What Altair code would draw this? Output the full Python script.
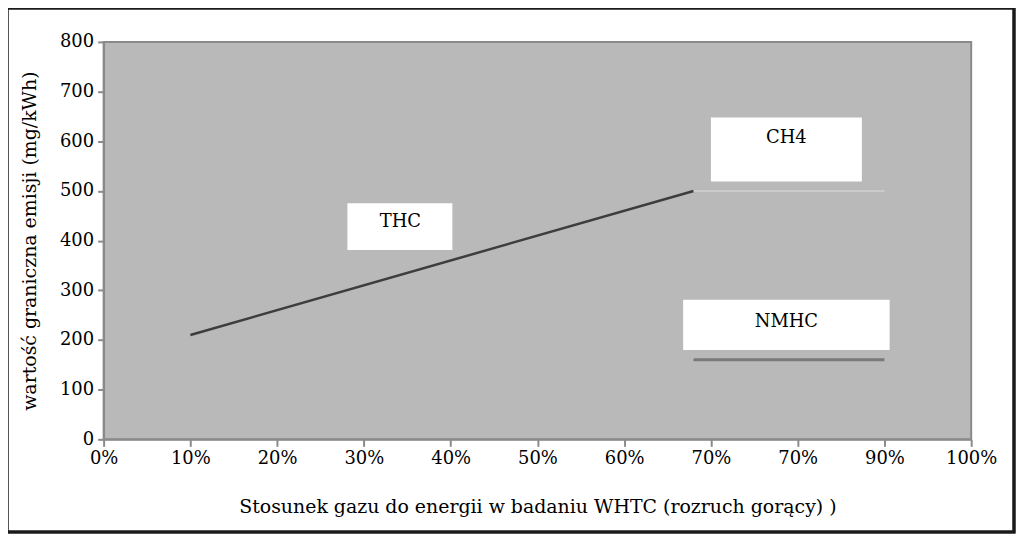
import altair as alt
import pandas as pd

# --- data ---
x_tick_values = [0, 0.1, 0.2, 0.3, 0.4, 0.5, 0.6, 0.7, 0.8, 0.9, 1.0]
x_tick_labels = ["0%", "10%", "20%", "30%", "40%", "50%", "60%", "70%", "70%", "90%", "100%"]
y_ticks = [0, 100, 200, 300, 400, 500, 600, 700, 800]

thc_x = [0.10, 0.68]
thc_y = [210, 500]
ch4_x = [0.68, 0.90]
ch4_y = [500, 500]
nmhc_x = [0.68, 0.90]
nmhc_y = [160, 160]

label_names = ["THC", "CH4", "NMHC"]
box_x1 = [0.281, 0.700, 0.668]
box_x2 = [0.402, 0.874, 0.906]
box_y1 = [381, 519, 180]
box_y2 = [475, 648, 281]
text_x = [0.342, 0.787, 0.787]
text_y = [437, 607, 237]

FONT = "DejaVu Serif"

thc = pd.DataFrame({"x": thc_x, "y": thc_y})
ch4 = pd.DataFrame({"x": ch4_x, "y": ch4_y})
nmhc = pd.DataFrame({"x": nmhc_x, "y": nmhc_y})
boxes = pd.DataFrame({"name": label_names, "x1": box_x1, "x2": box_x2,
                      "y1": box_y1, "y2": box_y2, "tx": text_x, "ty": text_y})

label_arr = "[" + ",".join("'%s'" % s for s in x_tick_labels) + "]"

xscale = alt.Scale(domain=[0, 1], nice=False, zero=False)
yscale = alt.Scale(domain=[0, 800], nice=False)

xaxis = alt.Axis(values=x_tick_values, labelExpr=label_arr + "[round(datum.value*10)]",
                 title="Stosunek gazu do energii w badaniu WHTC (rozruch gorący) )",
                 grid=False, tickSize=7, labelPadding=3, titlePadding=30,
                 labelFontSize=18, titleFontSize=19, labelFont=FONT, titleFont=FONT,
                 labelColor="#000", titleColor="#000", titleFontWeight="normal",
                 domainColor="#8a8a8a", tickColor="#8a8a8a", domainWidth=2, tickWidth=2,
                 labelFlush=False)
yaxis = alt.Axis(values=y_ticks, title="wartość graniczna emisji (mg/kWh)",
                 grid=False, tickSize=6, labelPadding=4, titlePadding=20,
                 labelFontSize=18, titleFontSize=19, labelFont=FONT, titleFont=FONT,
                 labelColor="#000", titleColor="#000", titleFontWeight="normal",
                 domainColor="#8a8a8a", tickColor="#8a8a8a", domainWidth=2, tickWidth=2)

base_axes = alt.Chart(thc).mark_line(color="#3d3d3d", strokeWidth=2.5).encode(
    x=alt.X("x:Q", scale=xscale, axis=xaxis),
    y=alt.Y("y:Q", scale=yscale, axis=yaxis),
)

ch4_line = alt.Chart(ch4).mark_line(color="#d2d2d2", strokeWidth=1.5).encode(
    x=alt.X("x:Q", scale=xscale), y=alt.Y("y:Q", scale=yscale))
nmhc_line = alt.Chart(nmhc).mark_line(color="#7a7a7a", strokeWidth=3).encode(
    x=alt.X("x:Q", scale=xscale), y=alt.Y("y:Q", scale=yscale))

box_rects = alt.Chart(boxes).mark_rect(color="white").encode(
    x=alt.X("x1:Q", scale=xscale), x2="x2:Q",
    y=alt.Y("y1:Q", scale=yscale), y2="y2:Q")
box_text = alt.Chart(boxes).mark_text(font=FONT, fontSize=18, color="#000",
                                      baseline="middle", align="center").encode(
    x=alt.X("tx:Q", scale=xscale), y=alt.Y("ty:Q", scale=yscale), text="name:N")

frame = alt.Chart(thc).mark_rect(fill=None, stroke="#1a1a1a", strokeWidth=3, clip=False).encode(
    x=alt.value(-97), x2=alt.value(914), y=alt.value(-34), y2=alt.value(492))

chart = alt.layer(base_axes, ch4_line, nmhc_line, box_rects, box_text, frame).properties(
    width=871, height=399,
    autosize=alt.AutoSizeParams(type="none"),
    padding={"left": 96, "top": 33, "right": 45, "bottom": 95},
    background="white",
).configure_view(
    fill="#b9b9b9", stroke="#8a8a8a", strokeWidth=2
)

chart.save("out.html", embed_options={"renderer": "svg", "actions": False})
